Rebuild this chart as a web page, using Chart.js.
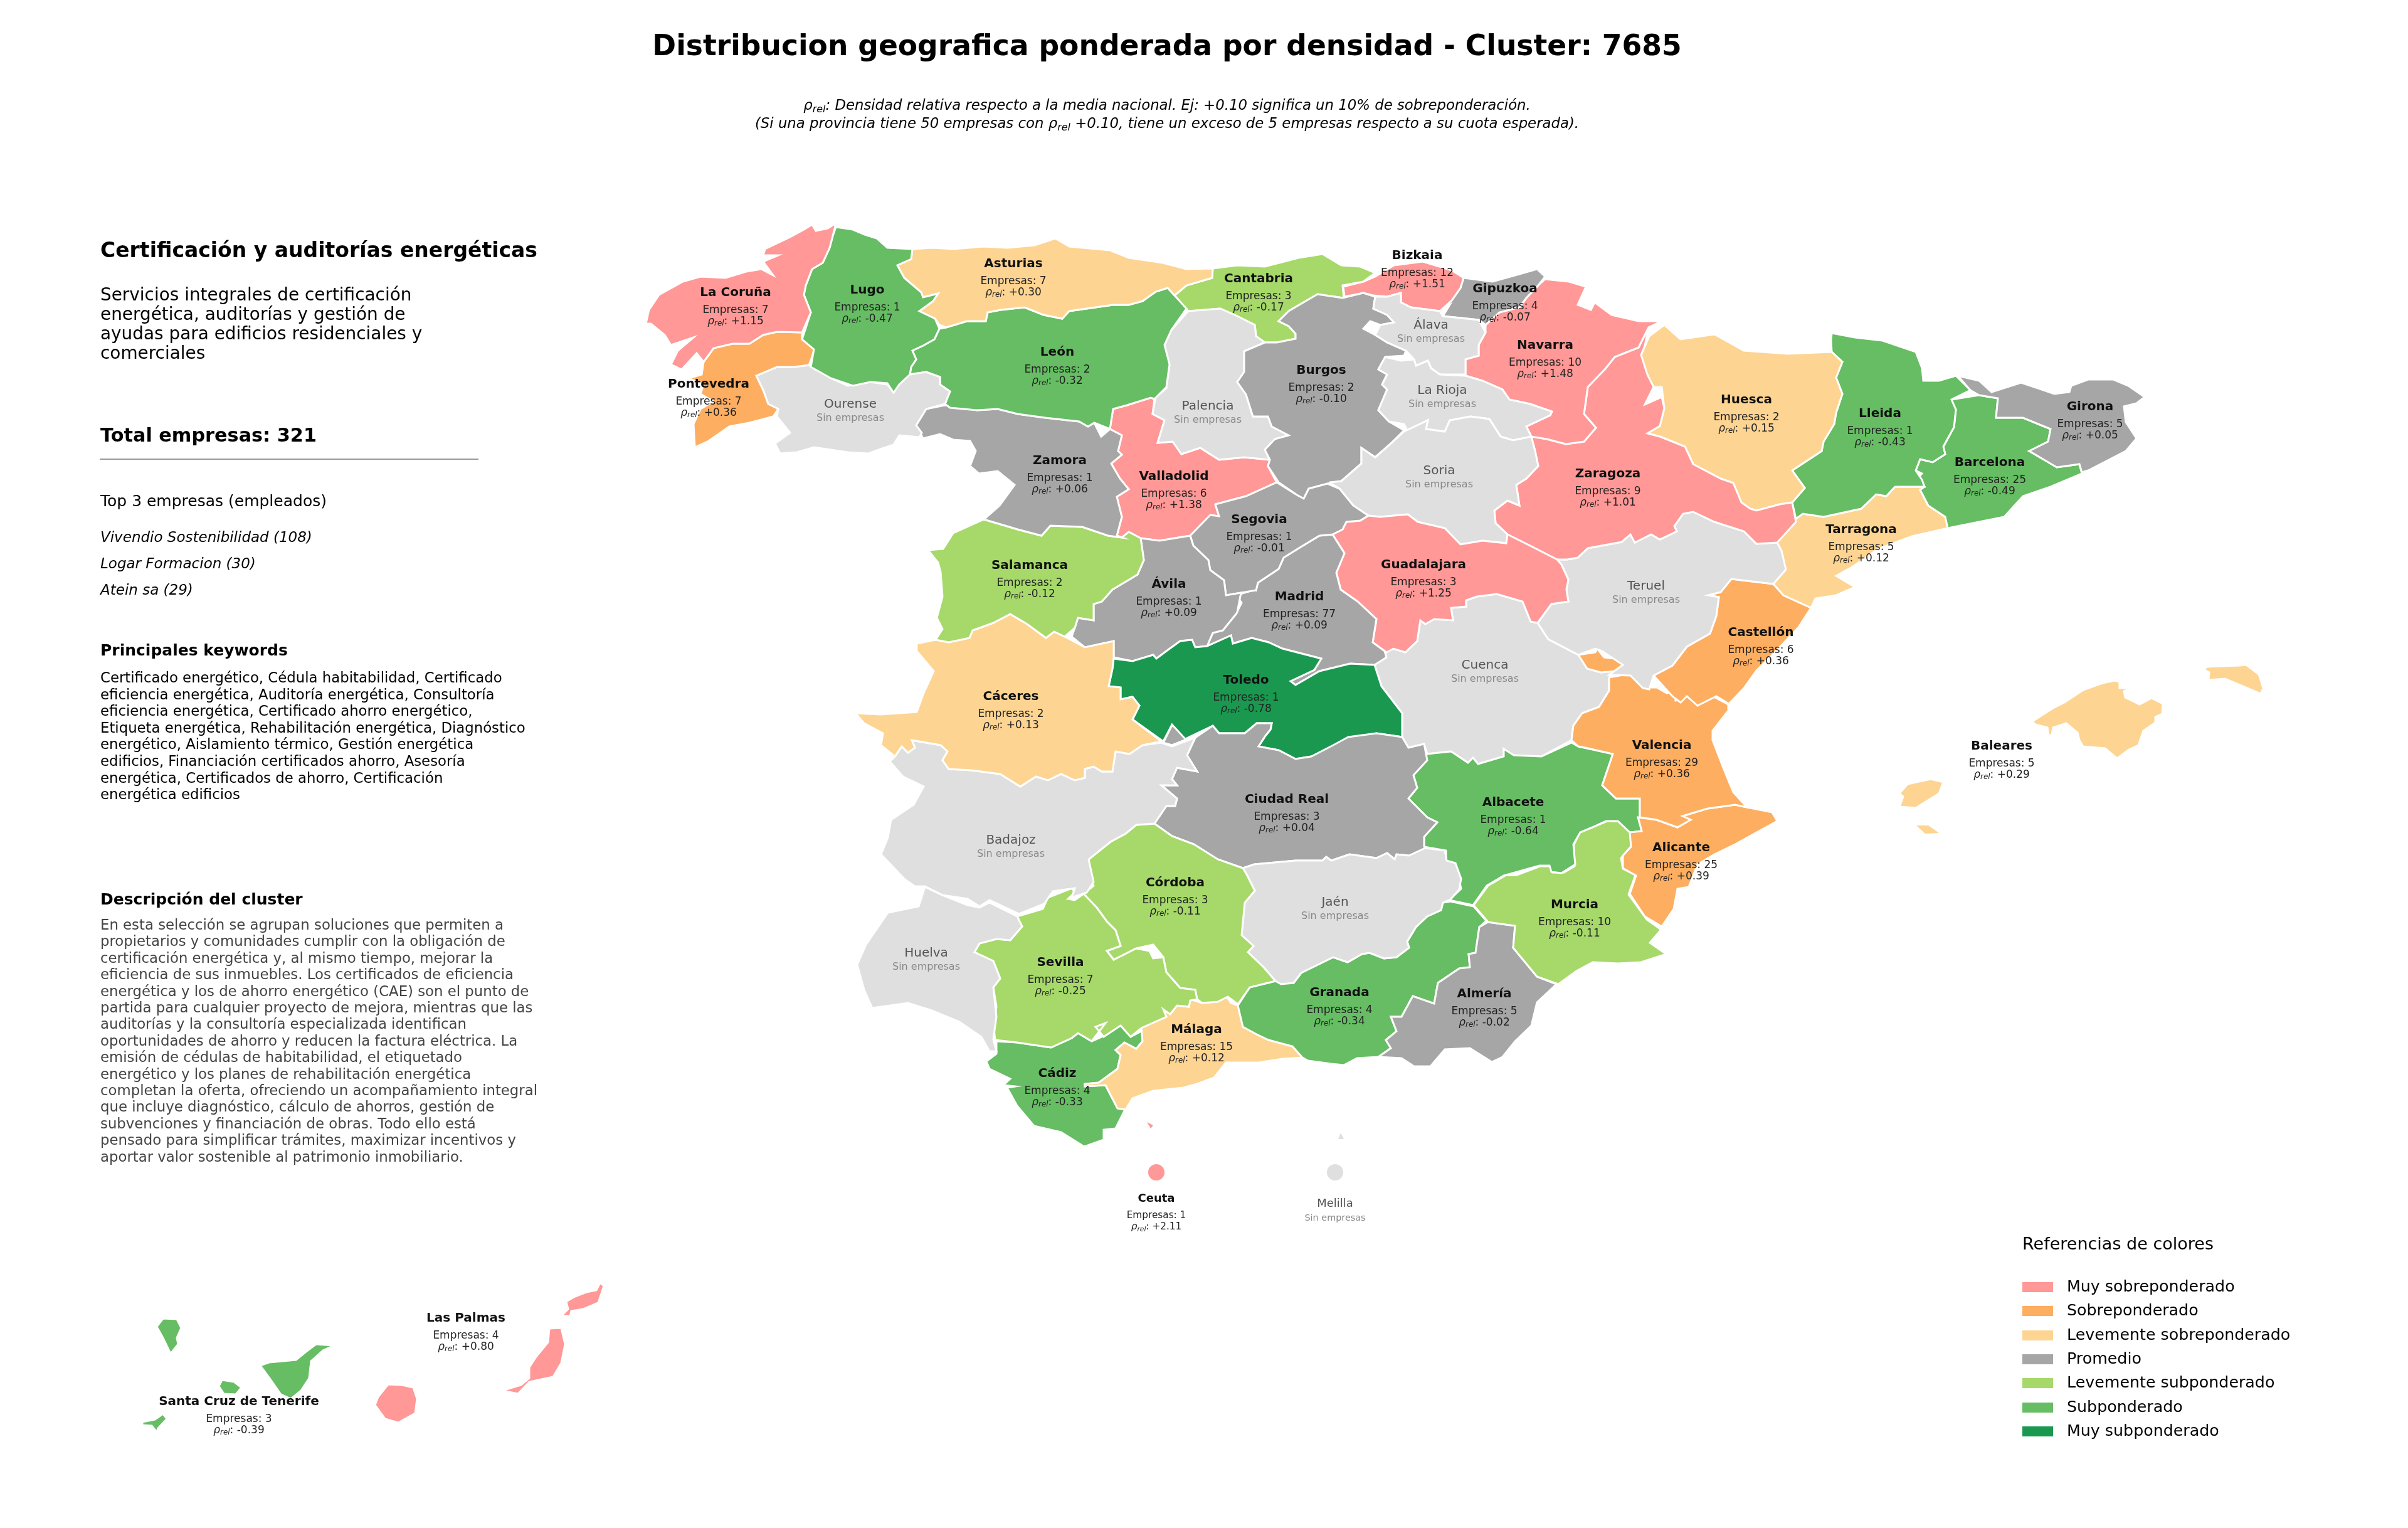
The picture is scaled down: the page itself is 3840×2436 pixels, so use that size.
<!DOCTYPE html>
<html><head><meta charset="utf-8">
<script src="https://cdn.jsdelivr.net/npm/chart.js@4"></script>
<style>
html,body{margin:0;background:#fff;font-family:"DejaVu Sans";}
#wrap{position:relative;width:3840px;height:2436px;overflow:hidden}
canvas{position:absolute;left:0;top:0}
.t{position:absolute;white-space:pre;transform:translateY(-50%);line-height:1;color:#000}
.c{transform:translate(-50%,-50%)}
.t sub{font-size:70%;line-height:0;vertical-align:-0.25em}
.sw{position:absolute;width:49px;height:16px}
</style></head><body><div id="wrap"><canvas id="map" width="3840" height="2436"></canvas></div>
<script>
// province outlines in map units
const laCoruna=[[1333,356],[1328,376],[1323,395],[1312,419],[1295,429],[1285,455],[1282,470],[1293,498],[1279,530],[1239,529],[1217,534],[1195,548],[1168,548],[1138,555],[1122,577],[1111,563],[1087,589],[1070,581],[1081,559],[1106,538],[1070,550],[1060,534],[1038,516],[1030,516],[1035,494],[1051,470],[1089,449],[1117,441],[1157,443],[1190,433],[1214,429],[1233,439],[1217,417],[1241,407],[1217,407],[1220,397],[1260,378],[1282,366],[1295,358],[1301,368],[1320,364]];
const lugo=[[1333,362],[1347,364],[1360,366],[1379,374],[1398,380],[1415,395],[1455,397],[1453,413],[1431,423],[1442,443],[1469,466],[1472,474],[1496,468],[1488,480],[1466,496],[1491,508],[1498,524],[1490,541],[1472,551],[1455,559],[1461,573],[1453,585],[1451,597],[1434,613],[1425,626],[1415,611],[1388,609],[1360,615],[1325,603],[1293,585],[1298,557],[1279,541],[1293,498],[1282,470],[1285,455],[1295,429],[1312,419],[1323,395],[1328,376]];
const pontevedra=[[1279,530],[1279,541],[1299,555],[1295,569],[1290,582],[1266,585],[1239,585],[1206,599],[1217,622],[1225,644],[1241,652],[1233,664],[1195,674],[1163,680],[1130,703],[1108,713],[1106,676],[1117,652],[1138,640],[1117,628],[1122,613],[1098,603],[1119,597],[1122,577],[1138,555],[1168,548],[1195,548],[1217,534],[1239,529]];
const ourense=[[1206,599],[1239,585],[1266,585],[1290,582],[1325,603],[1352,615],[1388,609],[1415,613],[1425,626],[1439,605],[1451,597],[1477,593],[1499,601],[1499,613],[1515,624],[1507,644],[1477,652],[1461,678],[1470,690],[1466,697],[1434,694],[1425,709],[1401,717],[1385,723],[1352,721],[1298,713],[1271,721],[1244,723],[1236,707],[1260,690],[1239,664],[1241,652],[1225,644],[1217,622]];
const asturias=[[1455,397],[1488,395],[1520,397],[1569,393],[1607,395],[1650,391],[1683,380],[1705,393],[1770,399],[1800,411],[1854,419],[1892,429],[1934,428],[1933,443],[1892,455],[1873,471],[1862,459],[1843,465],[1822,480],[1800,486],[1775,486],[1705,496],[1694,508],[1664,502],[1634,490],[1596,494],[1575,498],[1572,512],[1542,512],[1509,522],[1498,518],[1491,508],[1466,496],[1488,480],[1496,468],[1472,474],[1469,466],[1442,443],[1431,423],[1453,413]];
const leon=[[1498,524],[1509,522],[1542,512],[1572,512],[1575,498],[1596,494],[1634,490],[1664,502],[1694,508],[1705,496],[1775,486],[1800,486],[1822,480],[1843,465],[1862,459],[1873,471],[1892,492],[1868,526],[1857,550],[1865,581],[1860,617],[1841,636],[1835,634],[1797,646],[1775,652],[1770,684],[1745,674],[1735,680],[1721,672],[1667,666],[1623,660],[1591,652],[1558,654],[1515,650],[1507,644],[1515,624],[1499,613],[1499,601],[1477,593],[1451,597],[1453,585],[1461,573],[1455,559],[1472,551],[1490,541]];
const zamora=[[1507,646],[1558,654],[1591,652],[1623,660],[1667,666],[1721,672],[1735,680],[1745,674],[1756,696],[1770,684],[1789,694],[1783,719],[1789,725],[1772,739],[1786,763],[1800,780],[1781,792],[1789,824],[1781,854],[1789,857],[1767,854],[1726,840],[1675,838],[1661,854],[1623,844],[1569,828],[1594,806],[1618,773],[1591,751],[1561,755],[1547,743],[1556,719],[1547,703],[1520,701],[1499,692],[1472,699],[1461,678],[1477,652]];
const salamanca=[[1569,828],[1623,844],[1661,854],[1675,838],[1726,840],[1767,854],[1789,857],[1800,848],[1819,858],[1824,893],[1814,916],[1774,940],[1757,959],[1744,963],[1744,989],[1719,985],[1714,1001],[1698,1015],[1681,1007],[1668,1017],[1638,995],[1611,979],[1584,993],[1551,1005],[1546,1017],[1513,1024],[1492,1020],[1503,1003],[1494,985],[1503,951],[1500,912],[1496,897],[1480,877],[1504,875],[1520,850]];
const caceres=[[1462,1026],[1492,1020],[1513,1024],[1546,1017],[1551,1005],[1584,993],[1611,979],[1638,995],[1668,1017],[1681,1007],[1698,1015],[1730,1032],[1776,1022],[1776,1048],[1774,1066],[1768,1094],[1787,1096],[1787,1115],[1806,1111],[1817,1125],[1806,1147],[1852,1182],[1822,1188],[1801,1202],[1779,1198],[1774,1230],[1757,1230],[1744,1222],[1730,1226],[1730,1240],[1714,1244],[1692,1234],[1671,1244],[1652,1238],[1627,1254],[1595,1234],[1549,1228],[1513,1226],[1503,1212],[1511,1198],[1500,1188],[1454,1180],[1459,1192],[1448,1200],[1438,1190],[1427,1206],[1405,1188],[1408,1169],[1378,1153],[1364,1137],[1405,1139],[1462,1135],[1473,1105],[1489,1070],[1462,1038]];
const badajoz=[[1427,1206],[1438,1190],[1448,1200],[1459,1192],[1454,1180],[1500,1188],[1511,1198],[1503,1212],[1513,1226],[1549,1228],[1595,1234],[1627,1254],[1652,1238],[1671,1244],[1692,1234],[1714,1244],[1730,1240],[1730,1226],[1744,1222],[1757,1230],[1774,1230],[1779,1198],[1801,1202],[1822,1188],[1852,1184],[1869,1190],[1906,1176],[1893,1204],[1909,1230],[1877,1224],[1869,1242],[1877,1252],[1852,1252],[1877,1273],[1874,1285],[1860,1285],[1841,1313],[1812,1315],[1795,1329],[1771,1342],[1736,1370],[1744,1406],[1733,1423],[1709,1431],[1714,1416],[1679,1421],[1665,1441],[1625,1457],[1578,1435],[1562,1445],[1543,1433],[1503,1427],[1475,1413],[1459,1413],[1443,1402],[1405,1362],[1416,1335],[1421,1307],[1457,1283],[1473,1254],[1440,1238],[1419,1214]];
const huelva=[[1475,1414],[1503,1427],[1543,1443],[1562,1447],[1578,1439],[1622,1461],[1630,1477],[1611,1499],[1589,1497],[1562,1504],[1554,1518],[1584,1532],[1595,1560],[1584,1574],[1589,1621],[1584,1657],[1589,1676],[1578,1676],[1565,1653],[1530,1629],[1486,1611],[1448,1599],[1391,1607],[1378,1578],[1367,1538],[1381,1506],[1416,1455],[1465,1445]];
const sevilla=[[1622,1461],[1663,1449],[1671,1431],[1709,1416],[1714,1423],[1703,1433],[1714,1435],[1728,1425],[1749,1447],[1765,1469],[1779,1483],[1787,1508],[1765,1516],[1776,1530],[1812,1512],[1833,1516],[1839,1528],[1855,1526],[1860,1550],[1882,1575],[1906,1578],[1909,1593],[1898,1595],[1896,1605],[1877,1603],[1866,1617],[1855,1609],[1860,1621],[1820,1639],[1803,1653],[1787,1635],[1760,1653],[1747,1637],[1763,1631],[1741,1660],[1719,1647],[1709,1655],[1676,1670],[1622,1662],[1587,1658],[1584,1633],[1589,1605],[1584,1574],[1595,1560],[1584,1532],[1554,1518],[1562,1504],[1589,1497],[1611,1499],[1630,1477]];
const cordoba=[[1812,1315],[1841,1313],[1869,1333],[1904,1346],[1942,1370],[1982,1384],[1988,1394],[2001,1420],[1985,1439],[1980,1491],[1999,1508],[1990,1518],[2015,1542],[2034,1564],[1993,1574],[1974,1601],[1958,1589],[1942,1597],[1917,1599],[1909,1593],[1906,1578],[1882,1575],[1860,1550],[1855,1526],[1839,1506],[1812,1512],[1776,1530],[1765,1516],[1787,1508],[1779,1483],[1765,1469],[1749,1447],[1728,1425],[1744,1412],[1736,1392],[1736,1370],[1771,1342],[1795,1329]];
const jaen=[[2000,1378],[2066,1372],[2109,1372],[2115,1366],[2123,1372],[2152,1362],[2195,1368],[2212,1360],[2224,1370],[2227,1362],[2247,1364],[2273,1352],[2304,1356],[2307,1372],[2321,1376],[2330,1401],[2327,1418],[2313,1434],[2301,1439],[2298,1451],[2276,1461],[2258,1478],[2244,1501],[2247,1511],[2227,1526],[2207,1528],[2184,1519],[2172,1521],[2149,1534],[2126,1526],[2075,1551],[2063,1567],[2043,1569],[2034,1564],[2015,1542],[1990,1518],[1999,1508],[1980,1491],[1985,1439],[2001,1420],[1988,1394],[1982,1384]];
const ciudadReal=[[1906,1176],[1934,1157],[1944,1169],[1985,1169],[2004,1153],[2028,1153],[2026,1163],[2018,1173],[2007,1190],[2039,1196],[2066,1210],[2091,1206],[2126,1188],[2150,1175],[2195,1169],[2236,1175],[2246,1192],[2271,1186],[2276,1212],[2254,1236],[2260,1256],[2246,1273],[2276,1303],[2292,1311],[2271,1334],[2271,1350],[2273,1352],[2247,1364],[2227,1362],[2224,1370],[2212,1360],[2195,1368],[2152,1362],[2123,1372],[2115,1366],[2109,1372],[2066,1372],[2000,1378],[1982,1384],[1942,1370],[1904,1346],[1869,1333],[1841,1313],[1860,1285],[1874,1285],[1877,1273],[1852,1252],[1877,1252],[1869,1242],[1877,1224],[1909,1230],[1893,1204]];
const toledo=[[1776,1050],[1806,1054],[1839,1044],[1844,1050],[1860,1038],[1882,1022],[1901,1020],[1906,1032],[1925,1030],[1963,1013],[1966,1026],[1996,1017],[2023,1024],[2045,1034],[2107,1050],[2096,1068],[2058,1086],[2066,1092],[2104,1070],[2153,1058],[2192,1060],[2203,1094],[2236,1137],[2236,1175],[2195,1169],[2165,1175],[2133,1198],[2100,1204],[2091,1206],[2066,1210],[2039,1196],[2007,1190],[2018,1173],[2026,1163],[2028,1153],[2004,1153],[1985,1169],[1944,1169],[1934,1157],[1890,1178],[1869,1155],[1855,1182],[1806,1147],[1817,1125],[1806,1111],[1787,1115],[1787,1096],[1768,1094],[1774,1066]];
const enclaveToledo=[[1869,1156],[1892,1173],[1889,1180],[1869,1188],[1855,1184]];
const avila=[[1819,858],[1849,862],[1898,854],[1903,870],[1927,893],[1930,909],[1952,925],[1955,949],[1979,945],[1973,976],[1971,979],[1950,1005],[1934,1009],[1925,1030],[1906,1032],[1901,1020],[1882,1022],[1860,1038],[1844,1050],[1839,1044],[1806,1054],[1776,1048],[1776,1022],[1730,1032],[1709,1015],[1714,1001],[1719,985],[1744,989],[1744,963],[1757,959],[1774,940],[1814,916],[1824,893]];
const segovia=[[1938,804],[1987,791],[2036,769],[2068,789],[2079,795],[2087,779],[2117,771],[2136,779],[2158,806],[2182,822],[2169,830],[2147,832],[2141,844],[2125,852],[2104,854],[2071,874],[2047,889],[2039,907],[2006,929],[2003,941],[1979,945],[1955,949],[1952,925],[1930,909],[1927,893],[1903,870],[1898,854],[1930,821],[1944,823]];
const madrid=[[2125,852],[2144,882],[2131,913],[2138,940],[2165,959],[2195,987],[2189,1024],[2208,1038],[2211,1048],[2192,1060],[2153,1058],[2104,1070],[2066,1092],[2058,1086],[2096,1068],[2107,1050],[2045,1034],[2023,1024],[1996,1017],[1966,1026],[1963,1013],[1925,1030],[1934,1009],[1950,1005],[1971,979],[1980,961],[1971,949],[2001,940],[2003,941],[2006,929],[2039,907],[2047,889],[2071,874],[2104,854]];
const guadalajara=[[2125,852],[2141,844],[2147,832],[2169,830],[2182,822],[2201,824],[2245,820],[2261,832],[2304,842],[2329,868],[2364,862],[2402,866],[2404,852],[2440,870],[2483,892],[2490,900],[2501,924],[2498,940],[2501,959],[2474,963],[2452,993],[2441,991],[2428,959],[2387,947],[2355,951],[2338,957],[2338,967],[2314,969],[2317,989],[2287,987],[2273,995],[2265,989],[2260,1022],[2241,1040],[2222,1034],[2211,1040],[2189,1024],[2195,987],[2165,959],[2138,940],[2131,913],[2144,882]];
const soria=[[2120,769],[2139,767],[2171,739],[2171,714],[2193,729],[2217,708],[2239,688],[2277,670],[2274,684],[2304,688],[2312,670],[2345,664],[2375,668],[2393,696],[2413,702],[2442,696],[2448,719],[2453,743],[2434,763],[2418,773],[2423,806],[2404,798],[2383,814],[2385,834],[2404,852],[2402,866],[2364,862],[2329,868],[2304,842],[2261,832],[2245,820],[2201,824],[2182,822],[2158,806],[2136,779]];
const laRioja=[[2209,569],[2234,575],[2255,573],[2258,583],[2277,575],[2282,587],[2296,597],[2337,599],[2364,607],[2396,621],[2407,637],[2440,644],[2475,656],[2472,662],[2434,680],[2442,696],[2413,702],[2393,696],[2375,668],[2345,664],[2312,670],[2304,688],[2274,684],[2277,670],[2245,688],[2239,676],[2215,672],[2198,654],[2212,621],[2204,613],[2212,597],[2198,589]];
const alava=[[2193,473],[2212,473],[2234,467],[2234,482],[2250,490],[2296,496],[2301,504],[2358,510],[2369,530],[2358,550],[2358,567],[2337,573],[2337,597],[2296,597],[2282,587],[2277,575],[2258,583],[2255,573],[2242,559],[2212,546],[2193,534],[2201,518],[2223,514],[2212,502],[2190,492]];
const burgos=[[2141,475],[2101,469],[2055,496],[2039,512],[2055,520],[2066,532],[2066,540],[2036,546],[2017,546],[1984,560],[1984,593],[1973,609],[1987,629],[1998,664],[2022,664],[2028,680],[2055,694],[2033,700],[2017,717],[2025,733],[2022,743],[2039,769],[2068,789],[2079,795],[2087,779],[2117,771],[2139,767],[2171,739],[2171,714],[2193,729],[2217,708],[2239,686],[2215,672],[2198,654],[2212,621],[2204,613],[2212,597],[2198,589],[2209,569],[2239,567],[2242,559],[2212,546],[2193,534],[2174,524],[2185,512],[2201,518],[2223,514],[2212,502],[2190,492],[2193,473],[2174,467]];
const trevino=[[2253,546],[2277,544],[2304,548],[2301,556],[2315,567],[2293,565],[2272,561],[2253,554]];
const palencia=[[1895,496],[1946,492],[1973,504],[2001,518],[2003,536],[2017,546],[1984,560],[1984,593],[1973,609],[1987,629],[1998,664],[2022,664],[2028,680],[2055,694],[2033,700],[2017,717],[2025,733],[1984,729],[1944,733],[1914,714],[1884,724],[1870,704],[1846,706],[1857,670],[1838,660],[1843,633],[1860,619],[1865,581],[1857,550],[1868,526]];
const valladolid=[[1775,652],[1797,646],[1835,634],[1841,636],[1838,660],[1857,670],[1846,706],[1870,704],[1884,724],[1914,714],[1944,733],[1984,729],[2025,733],[2022,743],[2036,769],[1987,791],[1938,804],[1944,823],[1930,821],[1898,854],[1849,862],[1819,858],[1800,848],[1789,857],[1781,854],[1789,824],[1781,792],[1800,780],[1786,763],[1772,739],[1789,725],[1783,719],[1789,694],[1770,684]];
const cantabria=[[1934,428],[1973,423],[2017,425],[2071,411],[2109,405],[2139,423],[2169,425],[2193,435],[2174,449],[2141,455],[2143,475],[2101,469],[2055,496],[2039,512],[2055,520],[2066,532],[2066,540],[2036,546],[2017,546],[2003,536],[2001,518],[1973,504],[1946,492],[1895,496],[1873,471],[1892,455],[1933,443]];
const bizkaia=[[2142,457],[2174,449],[2193,441],[2223,423],[2269,417],[2315,431],[2334,443],[2329,459],[2315,479],[2296,496],[2250,490],[2234,482],[2234,467],[2212,473],[2190,471],[2174,467],[2144,473]];
const bizkaiaEnclave=[[2210,494],[2228,500],[2214,506]];
const gipuzkoa=[[2334,443],[2380,449],[2423,437],[2451,429],[2464,441],[2453,455],[2434,475],[2423,490],[2391,498],[2369,518],[2358,510],[2320,506],[2301,504],[2312,486],[2296,496],[2315,479],[2329,459]];
const navarra=[[2453,455],[2464,445],[2502,449],[2529,457],[2516,486],[2537,494],[2543,482],[2570,502],[2613,512],[2650,512],[2629,522],[2613,554],[2575,569],[2559,589],[2532,617],[2526,660],[2545,682],[2526,704],[2497,708],[2467,700],[2442,696],[2434,680],[2472,662],[2475,656],[2440,644],[2407,637],[2396,621],[2364,607],[2337,599],[2337,573],[2320,577],[2358,567],[2358,550],[2369,530],[2369,518],[2391,498],[2423,490],[2434,475]];
const zaragoza=[[2442,696],[2467,700],[2497,708],[2526,704],[2545,682],[2526,660],[2532,617],[2559,589],[2575,569],[2613,554],[2629,522],[2623,551],[2617,566],[2627,597],[2637,617],[2623,645],[2650,633],[2654,651],[2647,679],[2627,691],[2647,696],[2687,712],[2700,740],[2744,763],[2764,770],[2777,801],[2791,811],[2801,814],[2838,804],[2858,801],[2864,832],[2834,865],[2801,867],[2781,847],[2734,832],[2700,816],[2684,819],[2670,839],[2674,847],[2647,860],[2633,852],[2607,865],[2600,852],[2586,864],[2532,874],[2516,889],[2499,892],[2483,892],[2440,870],[2404,852],[2385,834],[2383,814],[2404,798],[2423,806],[2418,773],[2434,763],[2453,743],[2448,719]];
const huesca=[[2654,518],[2680,541],[2734,533],[2781,559],[2851,564],[2921,561],[2938,577],[2928,602],[2938,628],[2928,658],[2925,676],[2908,704],[2905,719],[2858,750],[2878,778],[2858,801],[2838,804],[2801,814],[2791,811],[2777,801],[2764,770],[2744,763],[2700,740],[2687,712],[2647,696],[2627,691],[2647,679],[2654,651],[2650,617],[2637,617],[2623,645],[2617,566],[2630,536]];
const lleida=[[2921,531],[2958,538],[3002,543],[3055,561],[3065,587],[3067,607],[3092,607],[3119,599],[3142,622],[3112,637],[3119,653],[3116,681],[3099,712],[3102,724],[3082,737],[3062,732],[3055,750],[3065,765],[3069,776],[3022,776],[3008,791],[2992,788],[2968,811],[2908,824],[2875,819],[2864,827],[2858,801],[2878,778],[2858,750],[2905,719],[2908,704],[2925,676],[2928,658],[2938,628],[2928,602],[2938,577],[2921,561],[2920,543]];
const girona=[[3122,599],[3156,607],[3176,625],[3223,610],[3253,620],[3276,628],[3300,625],[3303,615],[3330,605],[3370,605],[3394,615],[3420,633],[3407,643],[3387,648],[3390,673],[3407,699],[3390,719],[3330,750],[3320,753],[3316,740],[3280,745],[3236,719],[3266,704],[3270,684],[3226,666],[3183,666],[3186,635],[3156,630],[3142,622]];
const barcelona=[[3112,637],[3156,630],[3186,635],[3183,666],[3226,666],[3270,684],[3266,704],[3236,719],[3280,745],[3316,740],[3320,755],[3270,776],[3226,791],[3196,824],[3106,842],[3102,824],[3075,806],[3062,781],[3069,776],[3055,765],[3065,755],[3055,750],[3062,732],[3082,737],[3102,724],[3099,712],[3116,681],[3119,653]];
const tarragona=[[2864,827],[2875,819],[2908,824],[2968,811],[2992,788],[3008,791],[3022,776],[3069,776],[3062,781],[3075,806],[3102,824],[3106,842],[3049,855],[2995,875],[2955,903],[2928,918],[2958,936],[2928,949],[2895,954],[2888,969],[2844,949],[2828,931],[2848,908],[2841,878],[2834,865]];
const teruel=[[2483,892],[2499,892],[2516,889],[2532,874],[2586,864],[2600,852],[2607,865],[2633,852],[2647,860],[2674,847],[2670,839],[2684,819],[2700,816],[2734,832],[2781,847],[2801,867],[2834,865],[2844,878],[2848,908],[2828,931],[2761,923],[2744,944],[2724,949],[2741,952],[2737,982],[2727,1010],[2690,1031],[2667,1061],[2637,1077],[2630,1099],[2620,1097],[2600,1077],[2566,1076],[2574,1070],[2588,1060],[2555,1038],[2544,1034],[2517,1044],[2469,1019],[2452,993],[2474,963],[2501,959],[2498,940],[2501,924],[2490,900]];
const castellon=[[2761,923],[2828,931],[2844,949],[2888,969],[2868,1000],[2834,1036],[2801,1069],[2781,1097],[2757,1122],[2737,1110],[2707,1125],[2690,1110],[2680,1120],[2667,1110],[2637,1077],[2667,1061],[2690,1031],[2727,1010],[2737,982],[2741,952],[2724,949],[2744,944]];
const ademuz=[[2517,1044],[2544,1040],[2547,1034],[2558,1048],[2577,1050],[2591,1060],[2577,1070],[2553,1072],[2531,1066]];
const valencia=[[2566,1080],[2588,1076],[2615,1076],[2623,1096],[2642,1096],[2658,1105],[2669,1101],[2672,1117],[2691,1109],[2707,1125],[2729,1109],[2756,1123],[2756,1133],[2731,1165],[2731,1180],[2748,1224],[2764,1263],[2786,1287],[2767,1283],[2723,1289],[2683,1301],[2696,1307],[2675,1319],[2642,1307],[2615,1303],[2615,1273],[2577,1273],[2555,1252],[2572,1202],[2528,1192],[2517,1190],[2506,1180],[2509,1157],[2523,1137],[2550,1127],[2566,1101]];
const alicante=[[2786,1287],[2826,1295],[2834,1309],[2794,1331],[2767,1346],[2734,1362],[2707,1378],[2693,1414],[2675,1417],[2669,1449],[2650,1477],[2623,1461],[2599,1425],[2609,1396],[2588,1384],[2588,1364],[2601,1350],[2599,1327],[2618,1325],[2612,1303],[2642,1307],[2675,1319],[2696,1307],[2683,1301],[2723,1289],[2767,1283]];
const albacete=[[2276,1202],[2314,1198],[2341,1216],[2349,1208],[2357,1218],[2398,1206],[2398,1194],[2414,1204],[2458,1206],[2506,1184],[2517,1190],[2572,1202],[2555,1252],[2577,1273],[2615,1273],[2615,1303],[2618,1325],[2599,1327],[2580,1309],[2561,1309],[2539,1319],[2520,1327],[2509,1346],[2512,1378],[2490,1392],[2474,1390],[2471,1380],[2455,1380],[2398,1396],[2371,1412],[2349,1443],[2311,1435],[2330,1417],[2325,1394],[2306,1374],[2306,1356],[2271,1350],[2271,1334],[2292,1311],[2276,1303],[2246,1273],[2260,1256],[2254,1236]];
const cuenca=[[2211,1040],[2222,1034],[2241,1040],[2260,1022],[2265,989],[2273,995],[2287,987],[2317,989],[2314,969],[2338,967],[2338,957],[2355,951],[2387,947],[2428,959],[2441,991],[2452,993],[2469,1019],[2517,1044],[2531,1066],[2553,1072],[2574,1070],[2566,1080],[2566,1101],[2550,1127],[2523,1137],[2509,1157],[2506,1180],[2458,1206],[2414,1204],[2398,1194],[2398,1206],[2357,1218],[2349,1208],[2341,1216],[2314,1198],[2276,1202],[2271,1186],[2246,1192],[2236,1175],[2236,1137],[2203,1094],[2192,1060]];
const murcia=[[2350,1443],[2373,1412],[2402,1395],[2419,1395],[2456,1381],[2474,1381],[2476,1391],[2494,1391],[2511,1381],[2510,1347],[2519,1327],[2537,1320],[2565,1308],[2583,1310],[2600,1327],[2603,1347],[2585,1368],[2588,1385],[2608,1395],[2597,1426],[2626,1466],[2649,1482],[2631,1503],[2657,1521],[2617,1534],[2580,1536],[2540,1534],[2514,1548],[2485,1569],[2451,1557],[2413,1511],[2416,1476],[2373,1470]];
const almeria=[[2373,1470],[2416,1476],[2413,1511],[2451,1557],[2482,1569],[2451,1598],[2442,1635],[2416,1660],[2396,1685],[2379,1693],[2344,1671],[2304,1673],[2281,1700],[2255,1700],[2235,1687],[2198,1685],[2218,1671],[2210,1658],[2227,1644],[2218,1621],[2235,1621],[2253,1588],[2287,1600],[2293,1567],[2327,1544],[2344,1542],[2342,1521],[2353,1519],[2359,1478]];
const granada=[[2034,1564],[2063,1567],[2075,1551],[2126,1526],[2149,1534],[2172,1521],[2184,1519],[2207,1528],[2227,1526],[2247,1511],[2244,1501],[2258,1478],[2276,1461],[2298,1451],[2301,1439],[2313,1437],[2350,1445],[2370,1468],[2359,1478],[2353,1519],[2342,1521],[2344,1542],[2327,1544],[2293,1567],[2287,1600],[2253,1588],[2235,1621],[2218,1621],[2227,1644],[2210,1658],[2218,1671],[2198,1685],[2164,1687],[2143,1698],[2123,1696],[2086,1691],[2077,1686],[2061,1668],[2023,1658],[2004,1649],[1982,1637],[1974,1603],[1993,1574]];
const malaga=[[1898,1593],[1917,1599],[1942,1597],[1955,1587],[1963,1599],[1974,1603],[1982,1637],[2004,1649],[2023,1658],[2061,1668],[2077,1686],[2045,1688],[2007,1694],[1955,1694],[1936,1718],[1909,1728],[1887,1734],[1839,1739],[1806,1751],[1795,1769],[1782,1767],[1763,1730],[1730,1732],[1730,1728],[1752,1726],[1782,1704],[1787,1682],[1779,1674],[1793,1662],[1812,1672],[1822,1660],[1820,1639],[1860,1621],[1855,1609],[1866,1617],[1877,1603],[1896,1605]];
const cadiz=[[1589,1660],[1622,1662],[1676,1670],[1709,1655],[1719,1647],[1741,1660],[1757,1653],[1787,1635],[1803,1653],[1822,1643],[1822,1660],[1812,1672],[1793,1662],[1779,1674],[1787,1682],[1782,1704],[1752,1726],[1730,1728],[1730,1732],[1763,1730],[1782,1767],[1794,1769],[1779,1799],[1760,1801],[1760,1817],[1729,1828],[1692,1805],[1649,1795],[1622,1763],[1606,1734],[1619,1732],[1600,1730],[1611,1720],[1578,1704],[1573,1692],[1589,1680]];
const cadizEnclave=[[1749,1635],[1762,1633],[1757,1643]];
const mallorca=[[3241,1150],[3274,1129],[3292,1120],[3307,1110],[3322,1100],[3353,1089],[3372,1085],[3380,1087],[3380,1097],[3399,1097],[3387,1102],[3389,1112],[3412,1123],[3431,1113],[3449,1122],[3448,1138],[3437,1143],[3437,1152],[3418,1165],[3410,1188],[3395,1195],[3376,1209],[3357,1193],[3322,1190],[3316,1180],[3313,1168],[3295,1153],[3274,1160],[3272,1172],[3267,1172],[3265,1160],[3246,1155]];
const menorca=[[3515,1068],[3519,1063],[3571,1061],[3582,1060],[3602,1075],[3607,1090],[3609,1098],[3605,1106],[3586,1098],[3548,1082],[3522,1084],[3523,1072]];
const ibiza=[[3029,1265],[3042,1250],[3079,1242],[3099,1247],[3092,1265],[3055,1288],[3029,1286],[3035,1270]];
const formentera=[[3056,1316],[3075,1316],[3092,1328],[3070,1329]];
const laPalma=[[260,2102],[282,2103],[289,2117],[282,2133],[284,2143],[272,2158],[260,2133],[250,2115]];
const laGomera=[[354,2200],[373,2203],[385,2212],[376,2223],[357,2222],[349,2210]];
const tenerife=[[532,2145],[515,2153],[496,2170],[493,2197],[480,2217],[464,2230],[448,2223],[432,2200],[415,2177],[429,2172],[472,2168],[488,2155],[504,2143]];
const elHierro=[[260,2254],[266,2262],[252,2277],[250,2283],[242,2273],[227,2272],[227,2267],[247,2263]];
const granCanaria=[[619,2207],[641,2208],[659,2212],[665,2230],[662,2253],[635,2268],[614,2262],[598,2240],[603,2227]];
const fuerteventura=[[876,2118],[895,2117],[901,2143],[895,2173],[882,2195],[844,2203],[826,2222],[801,2217],[831,2208],[844,2197],[844,2180],[855,2163],[874,2140]];
const lanzarote=[[957,2045],[963,2050],[954,2077],[930,2087],[911,2090],[909,2098],[895,2098],[906,2087],[903,2075],[917,2067],[935,2060],[951,2057]];
const ceutaCoast=[[1829,1789],[1839,1794],[1835,1799]];
const melillaCoast=[[2138,1806],[2143,1816],[2134,1816]];

const provincias=["La Coruña","Lugo","Pontevedra","Ourense","Asturias","León","Zamora","Salamanca","Cáceres","Badajoz","Huelva","Sevilla","Córdoba","Jaén","Ciudad Real","Toledo","Ávila","Segovia","Madrid","Guadalajara","Soria","La Rioja","Álava","Burgos","Palencia","Valladolid","Cantabria","Bizkaia","Gipuzkoa","Navarra","Zaragoza","Huesca","Lleida","Girona","Barcelona","Tarragona","Teruel","Castellón","Valencia","Alicante","Albacete","Cuenca","Murcia","Almería","Granada","Málaga","Cádiz","Baleares","Santa Cruz de Tenerife","Las Palmas","Ceuta","Melilla"];
const empresas=[7,1,7,null,7,2,1,2,2,null,null,7,3,null,3,1,1,1,77,3,null,null,null,2,null,6,3,12,4,10,9,2,1,5,25,5,null,6,29,25,1,null,10,5,4,15,4,5,3,4,1,null];
const rhoRel=["+1.15","-0.47","+0.36",null,"+0.30","-0.32","+0.06","-0.12","+0.13",null,null,"-0.25","-0.11",null,"+0.04","-0.78","+0.09","-0.01","+0.09","+1.25",null,null,null,"-0.10",null,"+1.38","-0.17","+1.51","-0.07","+1.48","+1.01","+0.15","-0.43","+0.05","-0.49","+0.12",null,"+0.36","+0.36","+0.39","-0.64",null,"-0.11","-0.02","-0.34","+0.12","-0.33","+0.29","-0.39","+0.80","+2.11",null];
const clases=[0,5,1,7,2,5,3,4,2,7,7,4,4,7,3,6,3,3,3,0,7,7,7,3,7,0,4,0,3,0,0,2,5,3,5,2,7,1,1,1,5,7,4,3,5,2,5,2,5,0,0,7];
const partes=[[laCoruna],[lugo],[pontevedra],[ourense],[asturias],[leon],[zamora],[salamanca],[caceres],[badajoz],[huelva],[sevilla],[cordoba],[jaen],[ciudadReal],[toledo],[avila,enclaveToledo],[segovia],[madrid],[guadalajara],[soria],[laRioja],[alava],[burgos,trevino],[palencia],[valladolid],[cantabria],[bizkaia,bizkaiaEnclave],[gipuzkoa],[navarra],[zaragoza],[huesca],[lleida],[girona],[barcelona],[tarragona],[teruel],[castellon],[valencia,ademuz],[alicante],[albacete],[cuenca],[murcia],[almeria],[granada],[malaga],[cadiz,cadizEnclave],[mallorca,menorca,ibiza,formentera],[laPalma,laGomera,tenerife,elHierro],[granCanaria,fuerteventura,lanzarote],[ceutaCoast],[melillaCoast]];
const labelX=[1173,1383,1130,1356,1616,1686,1690,1642,1612,1612,1477,1691,1874,2129,2052,1987,1864,2008,2072,2270,2295,2300,2282,2107,1926,1872,2007,2260,2400,2464,2564,2785,2998,3333,3173,2968,2625,2808,2650,2681,2413,2368,2511,2367,2136,1908,1686,3192,381,743,1844,2129];
const labelY=[465,461,611,643,419,560,733,900,1109,1338,1518,1533,1406,1437,1273,1083,930,827,950,899,749,621,517,589,646,758,443,406,459,549,754,636,658,647,736,843,933,1007,1187,1350,1278,1059,1441,1583,1581,1640,1710,1188,2233,2100,1910,1918];

const colores=["#ff9896","#fdae61","#fdd492","#a6a6a6","#a6d96a","#66bd63","#1a9850","#dfdfdf"];
const leyenda=["Muy sobreponderado","Sobreponderado","Levemente sobreponderado","Promedio","Levemente subponderado","Subponderado","Muy subponderado"];
const centroCeuta={x:1844,y:1869};
const centroMelilla={x:2129,y:1869};
const etiquetaPequena=["Ceuta","Melilla"];

const lineasDescripcion=["En esta selección se agrupan soluciones que permiten a","propietarios y comunidades cumplir con la obligación de","certificación energética y, al mismo tiempo, mejorar la","eficiencia de sus inmuebles. Los certificados de eficiencia","energética y los de ahorro energético (CAE) son el punto de","partida para cualquier proyecto de mejora, mientras que las","auditorías y la consultoría especializada identifican","oportunidades de ahorro y reducen la factura eléctrica. La","emisión de cédulas de habitabilidad, el etiquetado","energético y los planes de rehabilitación energética","completan la oferta, ofreciendo un acompañamiento integral","que incluye diagnóstico, cálculo de ahorros, gestión de","subvenciones y financiación de obras. Todo ello está","pensado para simplificar trámites, maximizar incentivos y","aportar valor sostenible al patrimonio inmobiliario."];
const lineasKeywords=["Certificado energético, Cédula habitabilidad, Certificado","eficiencia energética, Auditoría energética, Consultoría","eficiencia energética, Certificado ahorro energético,","Etiqueta energética, Rehabilitación energética, Diagnóstico","energético, Aislamiento térmico, Gestión energética","edificios, Financiación certificados ahorro, Asesoría","energética, Certificados de ahorro, Certificación","energética edificios"];
const lineasServicios=["Servicios integrales de certificación","energética, auditorías y gestión de","ayudas para edificios residenciales y","comerciales"];
const topEmpresas=["Vivendio Sostenibilidad (108)","Logar Formacion (30)","Atein sa (29)"];

const toXY = pts => pts.concat([pts[0]]).map(p => ({ x: p[0], y: p[1] }));
const datasets = [];
partes.forEach((lista, i) => {
  lista.forEach(pts => {
    datasets.push({
      label: provincias[i], data: toXY(pts), showLine: true, fill: "shape", tension: 0,
      backgroundColor: colores[clases[i]], borderColor: "#ffffff",
      borderWidth: pts.length < 5 ? 0 : 3, pointRadius: 0
    });
  });
});
// Ceuta y Melilla: marcadores redondos
datasets.push({ label: "Ceuta", data: [centroCeuta], pointRadius: 13, pointBackgroundColor: colores[0], pointBorderWidth: 0 });
datasets.push({ label: "Melilla", data: [centroMelilla], pointRadius: 13, pointBackgroundColor: colores[7], pointBorderWidth: 0 });

const chart = new Chart(document.getElementById("map"), {
  type: "scatter",
  data: { datasets },
  options: {
    responsive: false, animation: false, devicePixelRatio: 1, layout: { padding: 0, autoPadding: false },
    plugins: { legend: { display: false }, tooltip: { enabled: false } },
    scales: {
      x: { type: "linear", display: false, min: 0, max: 3840 },
      y: { type: "linear", display: false, min: 0, max: 2436, reverse: true }
    }
  }
});

const wrap = document.getElementById("wrap");
function texto(html, x, y, size, style, centrado) {
  const d = document.createElement("div");
  d.className = centrado ? "t c" : "t";
  d.innerHTML = html;
  d.style.left = x + "px";
  d.style.top = y + "px";
  d.style.fontSize = size + "px";
  Object.assign(d.style, style || {});
  wrap.appendChild(d);
}
const RHO = '<i>ρ<sub>rel</sub></i>';

// etiquetas de provincias (Ceuta y Melilla van algo mas pequenas)
provincias.forEach((p, i) => {
  const x = chart.scales.x.getPixelForValue(labelX[i]);
  const y = chart.scales.y.getPixelForValue(labelY[i]);
  const k = etiquetaPequena.includes(p) ? 0.9 : 1;
  if (empresas[i] === null) {
    texto(p, x, y, 20 * k, { color: "#555" }, true);
    texto("Sin empresas", x, y + 23, 16 * k, { color: "#888" }, true);
  } else {
    texto(p, x, y, 20 * k, { fontWeight: "bold", color: "#111" }, true);
    texto("Empresas: " + empresas[i], x, y + 28, 17 * k, { color: "#222" }, true);
    texto(RHO + ": " + rhoRel[i], x, y + 46, 17 * k, { color: "#222" }, true);
  }
});

// cabecera
texto("Distribucion geografica ponderada por densidad - Cluster: 7685", 1861, 73, 45.6, { fontWeight: "bold" }, true);
texto(RHO + ": Densidad relativa respecto a la media nacional. Ej: +0.10 significa un 10% de sobreponderación.", 1861, 167, 22.8, { fontStyle: "italic" }, true);
texto("(Si una provincia tiene 50 empresas con " + RHO + " +0.10, tiene un exceso de 5 empresas respecto a su cuota esperada).", 1861, 196, 22.8, { fontStyle: "italic" }, true);

// panel izquierdo
texto("Certificación y auditorías energéticas", 160, 398, 33, { fontWeight: "bold" });
lineasServicios.forEach((l, i) => texto(l, 160, 470 + i * 31, 27.9));
texto("Total empresas: 321", 160, 694, 30.3, { fontWeight: "bold" });
const regla = document.createElement("div");
regla.style.cssText = "position:absolute;left:159px;top:731px;width:604px;height:2px;background:#999";
wrap.appendChild(regla);
texto("Top 3 empresas (empleados)", 160, 798, 25);
topEmpresas.forEach((l, i) => texto(l, 160, 856 + i * 42, 23, { fontStyle: "italic" }));
texto("Principales keywords", 160, 1036, 25, { fontWeight: "bold" });
lineasKeywords.forEach((l, i) => texto(l, 160, 1080 + i * 26.6, 22.8));
texto("Descripción del cluster", 160, 1433, 25, { fontWeight: "bold" });
lineasDescripcion.forEach((l, i) => texto(l, 160, 1474 + i * 26.4, 22.8, { color: "#444" }));

// leyenda
texto("Referencias de colores", 3225, 1982, 27);
leyenda.forEach((l, i) => {
  const s = document.createElement("div");
  s.className = "sw";
  s.style.left = "3225px";
  s.style.top = (2044 + i * 38.3) + "px";
  s.style.background = colores[i];
  wrap.appendChild(s);
  texto(l, 3296, 2051 + i * 38.3, 25.3);
});
</script></body></html>
